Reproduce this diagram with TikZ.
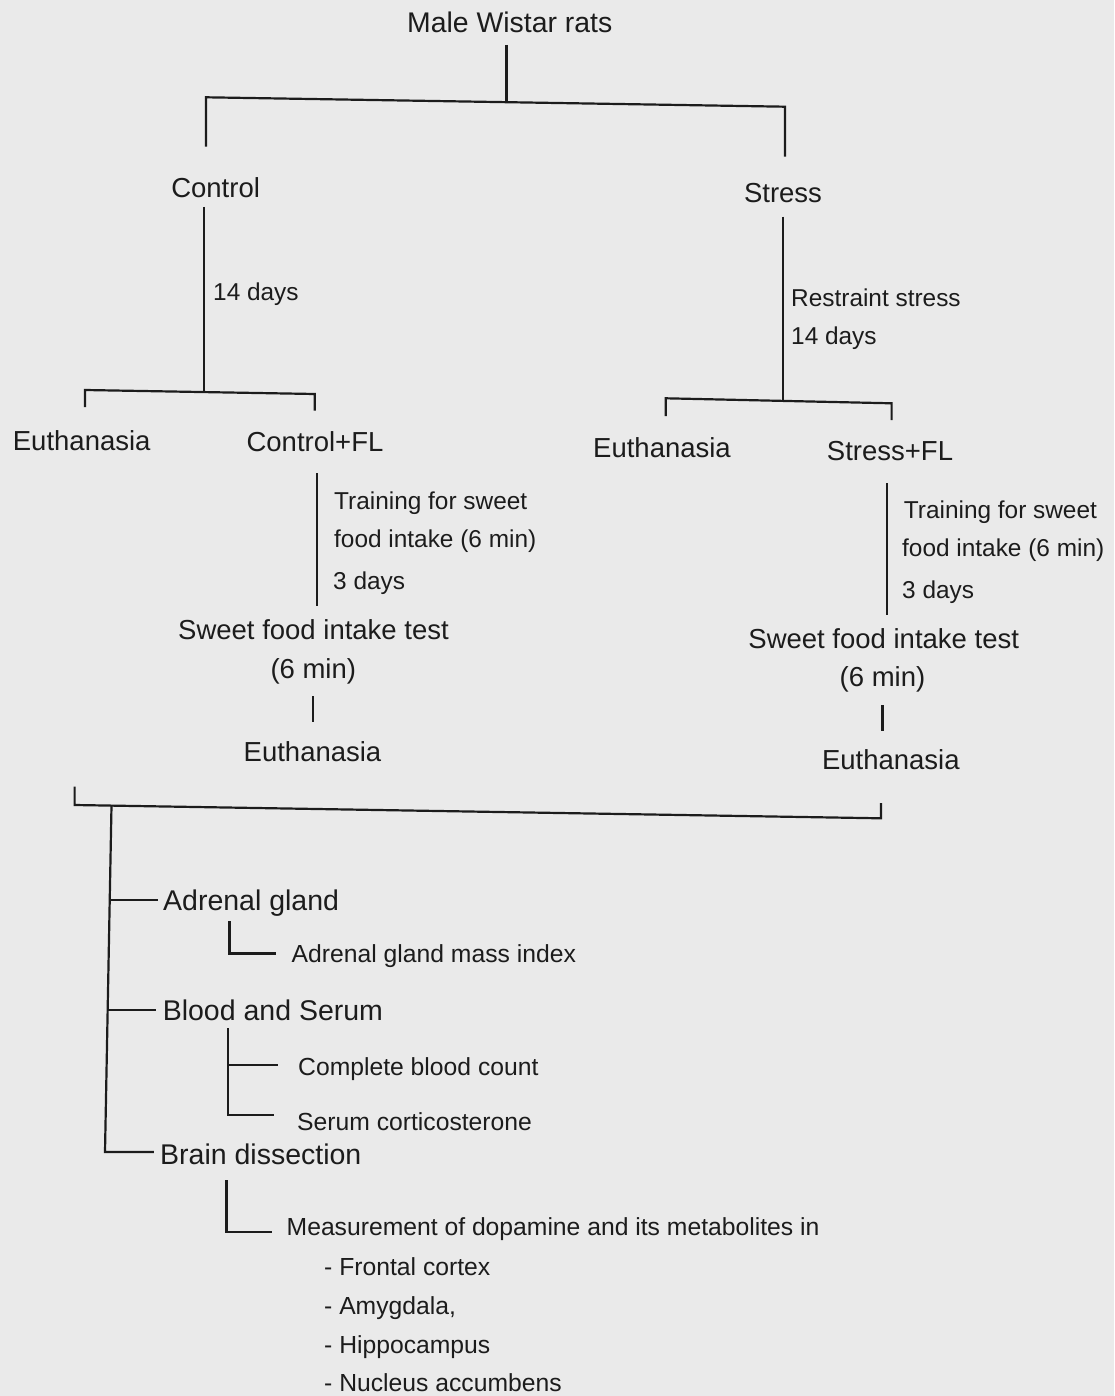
\documentclass[tikz,border=0pt]{standalone}
\usepackage{fontspec}
\setmainfont{Liberation Sans}
\definecolor{bg}{RGB}{234,234,234}
\definecolor{ink}{RGB}{28,28,28}
\begin{document}
\begin{tikzpicture}[x=1pt,y=-1pt,
  lbl/.style={inner sep=0pt, text=ink, font=\fontsize{27.5}{30}\selectfont, text height=19.7pt, text depth=0pt},
  note/.style={inner sep=0pt, text=ink, font=\fontsize{24.4}{28}\selectfont, text height=17.5pt, text depth=0pt, anchor=west},
  blbl/.style={inner sep=0pt, text=ink, font=\fontsize{28.5}{30}\selectfont, text height=20.4pt, text depth=0pt, anchor=west},
  bnote/.style={inner sep=0pt, text=ink, font=\fontsize{24.7}{28}\selectfont, text height=17.7pt, text depth=0pt, anchor=west},
  ln/.style={draw=ink, line width=2.2pt}]
\fill[bg] (0,0) rectangle (1114,1396);
\useasboundingbox (0,0) rectangle (1114,1396);

% ---- texts, upper part
\node[lbl, font=\fontsize{28.4}{30}\selectfont] (rats) at (509.7,23) {Male Wistar rats};
\node[lbl] (ctrl) at (215.6,187.7) {Control};
\node[lbl] (strs) at (783,192.7) {Stress};
\node[note] (d14a) at (213,291.7) {14 days};
\node[note] (rs) at (791,297.3) {Restraint stress};
\node[note] (d14b) at (791,335.7) {14 days};
\node[lbl] (eu1) at (81.7,440.7) {Euthanasia};
\node[lbl] (cfl) at (315,441.7) {Control+FL};
\node[lbl] (eu2) at (662,448) {Euthanasia};
\node[lbl] (sfl) at (890,450.5) {Stress+FL};
\node[note] (tr1) at (334,500.7) {Training for sweet};
\node[note] (fi1) at (334,539) {food intake (6 min)};
\node[note] (dy1) at (333,580.7) {3 days};
\node[lbl] (sf1) at (313.5,630) {Sweet food intake test};
\node[lbl] (mn1) at (313.3,668.3) {(6 min)};
\node[lbl] (eu3) at (312.5,751.7) {Euthanasia};
\node[note] (tr2) at (903.7,510) {Training for sweet};
\node[note] (fi2) at (902,547.3) {food intake (6 min)};
\node[note] (dy2) at (902,590) {3 days};
\node[lbl] (sf2) at (883.7,639) {Sweet food intake test};
\node[lbl] (mn2) at (882.5,676.7) {(6 min)};
\node[lbl] (eu4) at (890.8,760) {Euthanasia};

% ---- texts, lower part
\node[blbl] (adr) at (163,900) {Adrenal gland};
\node[bnote] (ami) at (291.5,953.5) {Adrenal gland mass index};
\node[blbl] (bas) at (162.6,1010) {Blood and Serum};
\node[bnote] (cbc) at (298,1067) {Complete blood count};
\node[bnote] (sc) at (297,1122) {Serum corticosterone};
\node[blbl] (brn) at (160,1154) {Brain dissection};
\node[bnote] (msr) at (286.5,1226.5) {Measurement of dopamine and its metabolites in};
\node[bnote] (l1) at (324,1267) {- Frontal cortex};
\node[bnote] (l2) at (324,1306) {- Amygdala,};
\node[bnote] (l3) at (324,1345) {- Hippocampus};
\node[bnote] (l4) at (324,1382.5) {- Nucleus accumbens};

% ---- connector points
\coordinate (r0) at (506.5,45);
\coordinate (r1) at (506.5,102.2);
\coordinate (bl0) at (206,146.7);
\coordinate (bl1) at (206,97.3);
\coordinate (br1) at (785,106.7);
\coordinate (br0) at (785,156.7);
\coordinate (c0) at (204,207);
\coordinate (c1) at (204,392.3);
\coordinate (cl0) at (85,407);
\coordinate (cl1) at (85,390);
\coordinate (cr1) at (314.7,394);
\coordinate (cr0) at (314.7,410.7);
\coordinate (s0) at (783,216.7);
\coordinate (s1) at (783,401.7);
\coordinate (sl0) at (665.7,416);
\coordinate (sl1) at (665.7,398.3);
\coordinate (sr1) at (891.6,403.3);
\coordinate (sr0) at (891.6,420);
\coordinate (cf0) at (316.8,473.3);
\coordinate (cf1) at (316.8,605.7);
\coordinate (ce0) at (312.6,696);
\coordinate (ce1) at (312.6,721.7);
\coordinate (sf0) at (886.6,483.3);
\coordinate (sf1e) at (886.6,615);
\coordinate (se0) at (882.4,705);
\coordinate (se1) at (882.4,730.7);
\coordinate (bb0) at (74.6,786.7);
\coordinate (bb1) at (74.6,805);
\coordinate (bb2) at (881,818.3);
\coordinate (bb3) at (881,803);
\coordinate (m0) at (111.5,805.6);
\coordinate (m1) at (105,1152);
\coordinate (ta0) at (109.7,900);
\coordinate (ta1) at (158,900);
\coordinate (tb0) at (107.7,1010);
\coordinate (tb1) at (155.7,1010);
\coordinate (tc1) at (153.8,1152);
\coordinate (a0) at (229.5,921);
\coordinate (a1) at (229.5,953.5);
\coordinate (a2) at (276,953.5);
\coordinate (b0) at (228,1028);
\coordinate (b1) at (228,1115);
\coordinate (b2) at (274,1115);
\coordinate (b3) at (228,1065);
\coordinate (b4) at (278,1065);
\coordinate (d0) at (226.5,1180);
\coordinate (d1) at (226.5,1232);
\coordinate (d2) at (272,1232);

% ---- connectors
\draw[ln] (r0) -- (r1);
\draw[ln] (bl0) -- (bl1) -- (br1) -- (br0);
\draw[ln] (c0) -- (c1);
\draw[ln] (cl0) -- (cl1) -- (cr1) -- (cr0);
\draw[ln] (s0) -- (s1);
\draw[ln] (sl0) -- (sl1) -- (sr1) -- (sr0);
\draw[ln] (cf0) -- (cf1);
\draw[ln] (ce0) -- (ce1);
\draw[ln] (sf0) -- (sf1e);
\draw[ln] (se0) -- (se1);
\draw[ln] (bb0) -- (bb1) -- (bb2) -- (bb3);
\draw[ln] (m0) -- (m1) -- (tc1);
\draw[ln] (ta0) -- (ta1);
\draw[ln] (tb0) -- (tb1);
\draw[ln] (a0) -- (a1) -- (a2);
\draw[ln] (b0) -- (b1) -- (b2);
\draw[ln] (b3) -- (b4);
\draw[ln] (d0) -- (d1) -- (d2);
\end{tikzpicture}
\end{document}
